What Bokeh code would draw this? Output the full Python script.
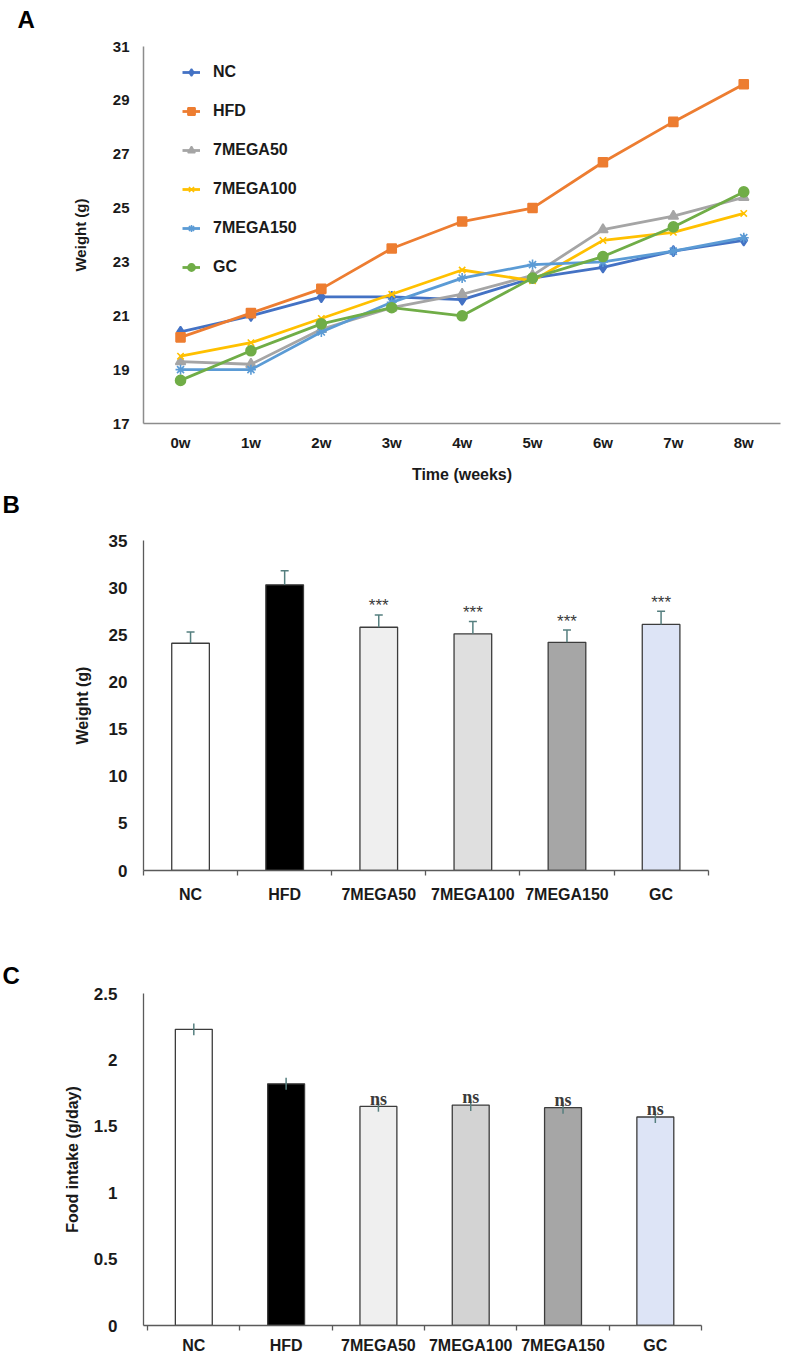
from bokeh.plotting import figure
from bokeh.layouts import column
from bokeh.models import (ColumnDataSource, Legend, LegendItem, FixedTicker,
                          Title, Range1d)
from bokeh.core.properties import value
from bokeh.embed import file_html
from bokeh.resources import INLINE

FONT = "Liberation Sans"

# ---------------- data ----------------
weeks = ["0w", "1w", "2w", "3w", "4w", "5w", "6w", "7w", "8w"]
nc = [20.4, 21.0, 21.7, 21.7, 21.6, 22.4, 22.8, 23.4, 23.8]
hfd = [20.2, 21.1, 22.0, 23.5, 24.5, 25.0, 26.7, 28.2, 29.6]
mega50 = [19.3, 19.2, 20.5, 21.3, 21.8, 22.5, 24.2, 24.7, 25.4]
mega100 = [19.5, 20.0, 20.9, 21.8, 22.7, 22.3, 23.8, 24.1, 24.8]
mega150 = [19.0, 19.0, 20.4, 21.5, 22.4, 22.9, 23.0, 23.4, 23.9]
gc = [18.6, 19.7, 20.7, 21.3, 21.0, 22.4, 23.2, 24.3, 25.6]

groups = ["NC", "HFD", "7MEGA50", "7MEGA100", "7MEGA150", "GC"]
final_weight = [24.1, 30.3, 25.8, 25.1, 24.2, 26.1]
final_weight_err = [1.2, 1.5, 1.3, 1.3, 1.3, 1.4]
weight_sig = ["", "", "***", "***", "***", "***"]

food_intake = [2.23, 1.82, 1.65, 1.66, 1.64, 1.57]
food_intake_err = [0.045, 0.045, 0.04, 0.045, 0.045, 0.045]
food_sig = ["", "", "ns", "ns", "ns", "ns"]

# ---------------- styles ----------------
bar_colors_b = ["#FFFFFF", "#000000", "#EFEFEF", "#DFDFDF", "#A6A6A6", "#DDE4F6"]
bar_colors_c = ["#FFFFFF", "#000000", "#EFEFEF", "#D3D3D3", "#A6A6A6", "#DDE4F6"]
ERR = "#557F7F"
W = 786
LEFT = 143
RIGHT = 6


def base_axes(p, axis_color, width=1):
    p.xgrid.visible = False
    p.ygrid.visible = False
    p.outline_line_color = None
    for ax in (p.xaxis[0], p.yaxis[0]):
        ax.axis_line_color = axis_color
        ax.axis_line_width = width
        ax.major_tick_in = 0
        ax.major_tick_out = 0
        ax.minor_tick_in = 0
        ax.minor_tick_out = 0
        ax.major_label_text_font = FONT
        ax.major_label_text_font_style = "bold"
        ax.major_label_text_color = "#1a1a1a"
        ax.axis_label_text_font = FONT
        ax.axis_label_text_font_style = "bold"
        ax.axis_label_text_color = "#1a1a1a"


def letter(p, txt, offset, spacer_standoff):
    # invisible spacer title next to the frame, letter title stacked above it
    p.add_layout(Title(text=" ", standoff=spacer_standoff,
                       text_font_size="2px"), "above")
    p.add_layout(Title(text=txt, align="left", offset=offset, standoff=0,
                       text_font=FONT, text_font_style="bold",
                       text_font_size="24px", text_color="#000000"), "above")


# ---------------- panel A ----------------
x_idx = list(range(len(weeks)))
pA = figure(width=W, height=485, x_range=Range1d(-0.526, 8.522),
            y_range=Range1d(17, 31), output_backend="svg",
            toolbar_location=None, min_border_left=LEFT,
            min_border_right=RIGHT, min_border_top=46, min_border_bottom=58)
base_axes(pA, "#8C8C8C", 1.5)
pA.xaxis.ticker = FixedTicker(ticks=x_idx)
pA.xaxis.major_label_overrides = {i: w for i, w in enumerate(weeks)}
pA.xaxis.major_label_text_font_size = "15px"
pA.xaxis.major_label_standoff = 10
pA.xaxis.axis_label = "Time (weeks)"
pA.xaxis.axis_label_text_font_size = "16px"
pA.xaxis.axis_label_standoff = 12
pA.yaxis.ticker = FixedTicker(ticks=[17, 19, 21, 23, 25, 27, 29, 31])
pA.yaxis.major_label_text_font_size = "15px"
pA.yaxis.major_label_standoff = 14
pA.yaxis.axis_label = "Weight (g)"
pA.yaxis.axis_label_text_font_size = "15px"
pA.yaxis.axis_label_standoff = 21

series = [
    ("NC", nc, "#4472C4", "diamond", 11),
    ("HFD", hfd, "#ED7D31", "square", 9),
    ("7MEGA50", mega50, "#A5A5A5", "triangle", 10),
    ("7MEGA100", mega100, "#FFC000", "x", 9),
    ("7MEGA150", mega150, "#5B9BD5", "asterisk", 10),
    ("GC", gc, "#70AD47", "circle", 10),
]
items = []
for name, vals, color, marker, size in series:
    src = ColumnDataSource(dict(x=x_idx, y=vals))
    r1 = pA.line("x", "y", source=src, line_color=color, line_width=2.8)
    r2 = pA.scatter("x", "y", source=src, marker=marker, size=size,
                    fill_color=color, line_color=color, line_width=1.6)
    items.append(LegendItem(label=name, renderers=[r1, r2]))

legend = Legend(items=items, location=(39, 381 - 20 - (6 * 20 + 5 * 19)),
                padding=0, margin=0, spacing=19, label_height=20,
                glyph_height=20, glyph_width=18, label_standoff=13,
                border_line_alpha=0, background_fill_alpha=0,
                label_text_font=FONT, label_text_font_style="bold",
                label_text_font_size="16px", label_text_color="#1a1a1a")
pA.add_layout(legend)
letter(pA, "A", -126, 10)


# ---------------- bar panels ----------------
def bar_panel(height, top, frame_h, x_start, vals, errs, sig, colors,
              ymax, yticks, ylabels, ytitle, two_sided, sig_font, sig_size,
              sig_offset, sig_style, y_standoff, title_standoff, x_standoff,
              x_end):
    n = len(groups)
    idx = list(range(n))
    p = figure(width=W, height=height, x_range=Range1d(x_start, x_end),
               y_range=Range1d(0, ymax), output_backend="svg",
               toolbar_location=None, min_border_left=LEFT,
               min_border_right=RIGHT, min_border_top=top,
               min_border_bottom=height - top - frame_h)
    base_axes(p, "#5A5A5A", 1.3)
    lower = [v - e if two_sided else v for v, e in zip(vals, errs)]
    upper = [v + e for v, e in zip(vals, errs)]
    src = ColumnDataSource(dict(x=idx, top=vals, lower=lower, upper=upper,
                                color=colors, sig=sig))
    p.vbar(x="x", top="top", bottom=0, width=0.4, source=src,
           fill_color="color", line_color="#3C3C3C", line_width=1.3)
    p.segment(x0="x", y0="lower", x1="x", y1="upper", source=src,
              line_color=ERR, line_width=1.5)
    if not two_sided:
        p.scatter(x="x", y="upper", source=src, marker="dash", size=8,
                  line_color=ERR, line_width=1.5)
    p.text(x="x", y="upper", text="sig", source=src, text_align="center",
           text_baseline="alphabetic", y_offset=sig_offset,
           text_font=value(sig_font), text_font_size=sig_size,
           text_color="#3a3a3a", text_font_style=sig_style)

    p.xaxis.bounds = (x_start, n - 0.5)
    p.xaxis.ticker = FixedTicker(ticks=idx,
                                 minor_ticks=[i - 0.5 for i in range(n + 1)])
    p.xaxis.minor_tick_out = 5
    p.xaxis.minor_tick_line_color = "#5A5A5A"
    p.xaxis.minor_tick_line_width = 1.3
    p.xaxis.major_label_overrides = {i: g for i, g in enumerate(groups)}
    p.xaxis.major_label_text_font_size = "16px"
    p.xaxis.major_label_standoff = x_standoff

    p.yaxis.ticker = FixedTicker(ticks=yticks)
    p.yaxis.major_label_overrides = dict(zip(yticks, ylabels))
    p.yaxis.major_label_text_font_size = "17px"
    p.yaxis.major_label_standoff = y_standoff
    p.yaxis.axis_label = ytitle
    p.yaxis.axis_label_text_font_size = "16px"
    p.yaxis.axis_label_standoff = title_standoff
    return p


pB = bar_panel(420, 55, 332, -0.5, final_weight, final_weight_err,
               weight_sig, bar_colors_b, 35, [0, 5, 10, 15, 20, 25, 30, 35],
               ["0", "5", "10", "15", "20", "25", "30", "35"], "Weight (g)",
               False, "Liberation Sans", "17px", -9, "normal", 16, 15, 10,
               6.269)
letter(pB, "B", -141, 19)

pC = bar_panel(451, 88, 334, -0.545, food_intake, food_intake_err,
               food_sig, bar_colors_c, 2.5, [0, 0.5, 1, 1.5, 2, 2.5],
               ["0", "0.5", "1", "1.5", "2", "2.5"], "Food intake (g/day)",
               True, "Liberation Serif", "18px", -2, "bold", 26, 10, 6,
               6.356)
letter(pC, "C", -141, 1)

layout = column(pA, pB, pC, spacing=0)
open("out.html", "w").write(file_html(layout, INLINE))
